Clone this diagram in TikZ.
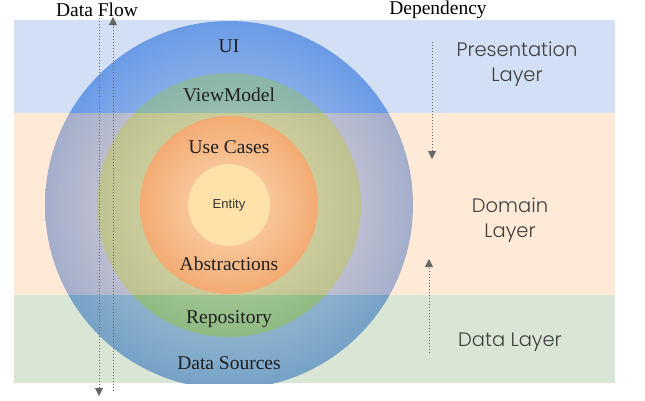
\documentclass[tikz,border=0pt]{standalone}
\usepackage{fontspec}
\usetikzlibrary{arrows.meta}

\newfontfamily\layerfont{Poppins}[UprightFont=* Light]
\newfontfamily\entityfont{Liberation Sans}
\newfontfamily\ringfont{Liberation Serif}

\definecolor{presbg}{HTML}{D3DFF4}
\definecolor{domainbg}{HTML}{FEEAD6}
\definecolor{databg}{HTML}{D9E5D5}
\definecolor{presouterin}{HTML}{C2D2EC}
\definecolor{presouterout}{HTML}{6B9BE6}
\definecolor{presmidin}{HTML}{B3CDBE}
\definecolor{presmidout}{HTML}{8AB5A8}
\definecolor{domouterin}{HTML}{F3E4DA}
\definecolor{domouterout}{HTML}{A4AECB}
\definecolor{dommidin}{HTML}{E2DDB1}
\definecolor{dommidout}{HTML}{BDC290}
\definecolor{dataouterin}{HTML}{C3D6DC}
\definecolor{dataouterout}{HTML}{76A2C6}
\definecolor{datamidin}{HTML}{C0D9B2}
\definecolor{datamidout}{HTML}{8FBA82}
\definecolor{usecasein}{HTML}{FCDAB8}
\definecolor{usecaseout}{HTML}{F3AB72}
\definecolor{entityfill}{HTML}{FEE2A9}
\definecolor{arrowgray}{HTML}{666666}

\begin{document}
\begin{tikzpicture}[x=1pt,y=-1pt,
	ring label/.style={font=\ringfont\fontsize{19.5}{22}\selectfont, text=black!88, inner sep=0pt},
	title label/.style={font=\ringfont\fontsize{19.5}{22}\selectfont, inner sep=0pt},
	layer label/.style={font=\layerfont\fontsize{19.5}{25}\selectfont, text=black!75, align=center, inner sep=0pt},
	flow/.style={arrowgray, line width=1pt, dash pattern=on 1pt off 2pt,
		-{Triangle[width=8pt,length=8pt]}}]

	\useasboundingbox (0,0) rectangle (645,400);
	\coordinate (hub) at (229,205);

	% the three layer bands, each with its part of the rings
	\foreach \top/\bot/\bandcol/\outin/\outout/\midin/\midout in {
		20/113/presbg/presouterin/presouterout/presmidin/presmidout,
		113/295/domainbg/domouterin/domouterout/dommidin/dommidout,
		295/383/databg/dataouterin/dataouterout/datamidin/datamidout}{
		\begin{scope}
			\clip (14,\top) rectangle (615,\bot);
			\fill[\bandcol] (14,\top) rectangle (615,\bot);
			\shade[inner color=\outin, outer color=\outout] (hub) circle[radius=184pt];
			\shade[inner color=\midin, outer color=\midout] (hub) circle[radius=132pt];
		\end{scope}
	}

	\shade[inner color=usecasein, outer color=usecaseout] (hub) circle[radius=89pt];
	\node[circle, fill=entityfill, minimum size=82pt, inner sep=0pt,
		font=\entityfont\fontsize{13}{15}\selectfont, text=black!80] (entity) at (hub) {Entity};

	% ring labels
	\node[ring label] (ui) at (229,46) {UI};
	\node[ring label] (viewmodel) at (229,95) {ViewModel};
	\node[ring label] (usecases) at (229,147) {Use Cases};
	\node[ring label] (abstractions) at (229,264) {Abstractions};
	\node[ring label] (repository) at (229,319) {Repository};
	\node[ring label] (datasources) at (229,363) {Data Sources};

	% layer labels
	\node[layer label] (presentation) at (517,64) {Presentation\\Layer};
	\node[layer label] (domain) at (510,220) {Domain\\Layer};
	\node[layer label] (datalayer) at (510,342) {Data Layer};

	% headings and arrows
	\node[title label] (dataflow) at (97,10) {Data Flow};
	\node[title label] (dependency) at (438,10) {Dependency};

	\coordinate (flowtop) at (99,15);
	\coordinate (flowbot) at (99,396);
	\coordinate (backbot) at (113,391);
	\coordinate (backtop) at (113,17);
	\draw[flow] (flowtop) -- (flowbot);
	\draw[flow] (backbot) -- (backtop);

	\coordinate (deptop) at (432,42);
	\coordinate (depmid) at (432,159);
	\coordinate (depbot) at (429,353);
	\coordinate (deplow) at (429,259);
	\draw[flow] (deptop) -- (depmid);
	\draw[flow] (depbot) -- (deplow);
\end{tikzpicture}
\end{document}
